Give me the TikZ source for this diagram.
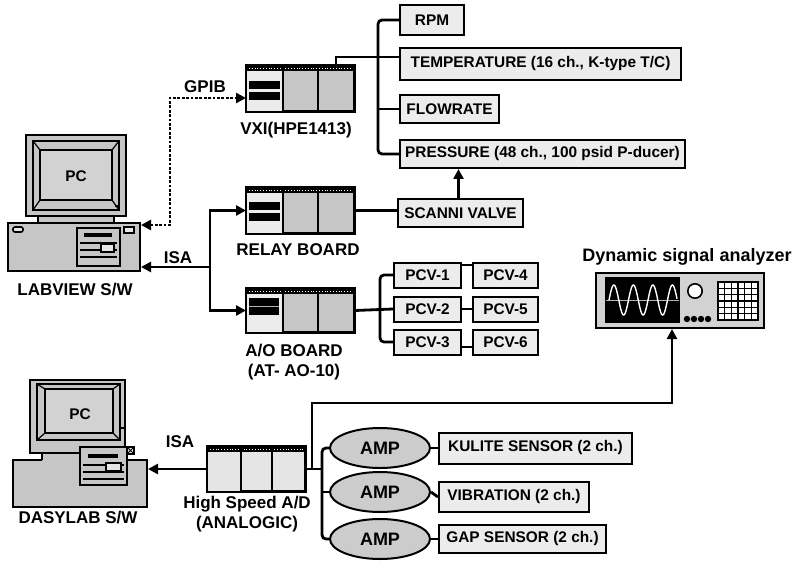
\documentclass[tikz,border=0pt]{standalone}
\usepackage{fontspec}
\setmainfont{Liberation Sans}
\usetikzlibrary{arrows.meta, positioning, calc, shapes.geometric}

\newcommand\boxfont{\fontsize{7.7}{9}\selectfont\bfseries}
\newcommand\lblfont{\fontsize{8.5}{10}\selectfont\bfseries}

% front of a plug-in board: black top strip and three slots
\newcommand\boardface[2]{%
  \fill[#2] ($(#1.north west)+(1,1)$) rectangle ($(#1.south west)!0.34!(#1.south east)+(0,-1)$);
  \fill (#1.north west) rectangle ($(#1.north east)+(0,6)$);
  \draw[white, densely dotted, line width=0.4pt] ($(#1.north west)+(3,3)$) -- ($(#1.north east)+(-3,3)$);
  \foreach \f in {0.34,0.66}
    \draw[line width=1pt] ($(#1.north west)!\f!(#1.north east)$) -- ($(#1.south west)!\f!(#1.south east)$);
  \draw[line width=1pt] (#1.north west) rectangle (#1.south east);
}

\begin{document}
\begin{tikzpicture}[
  x=0.5pt, y=-0.5pt,
  >={Triangle[length=5pt, width=5pt]},
  tag/.style={draw, line width=1pt, fill=gray!15, font=\boxfont, anchor=west,
              inner xsep=2pt, inner ysep=0pt},
  lbl/.style={font=\lblfont, align=center, inner sep=0pt},
  board/.style={draw, line width=1pt, fill=gray!45, inner sep=0pt, anchor=north west,
                minimum width=53.5pt, minimum height=22.5pt},
  amp/.style={ellipse, draw, line width=1pt, fill=gray!40,
              font=\fontsize{9}{10}\selectfont\bfseries,
              minimum width=50pt, minimum height=20pt, inner sep=0pt},
  pcbody/.style={draw, line width=1pt, fill=gray!45, inner sep=0pt},
  wire/.style={line width=1.4pt},
  gpib/.style={line width=1.4pt, dash pattern=on 1.4pt off 0.8pt}
]
\useasboundingbox (0,0) rectangle (796,561);

%% LabVIEW computer
\node[pcbody, minimum width=66pt, minimum height=24pt] (lvbase) at (74,247) {};
\draw[pcbody] (38,216) rectangle (114,223);
\node[pcbody, minimum width=50pt, minimum height=40.5pt] (lvmon) at (76,175.5) {};
\draw[line width=0.8pt] (33,141) rectangle (119,210);
\draw[line width=0.8pt, fill=gray!35] (40,150) rectangle (112,200);
\draw[line width=0.6pt] (33,141) -- (40,150) (119,141) -- (112,150)
  (33,210) -- (40,200) (119,210) -- (112,200);
\fill (115,205) rectangle (120,207);
\node[font=\boxfont] (lvpc) at (76,176) {PC};
\draw[fill=gray!20, rounded corners=1pt, line width=0.8pt] (13,227) rectangle (23,232);
\draw[fill=gray!20, line width=0.8pt] (124,227) rectangle (134,233);
\draw[fill=gray!45, line width=0.8pt] (77,228) rectangle (120,266);
\draw[line width=1.6pt] (84,235) -- (112,235);
\foreach \yy in {243,250,257}
  \draw[line width=0.7pt] (80,\yy) -- (117,\yy);
\draw[fill=gray!20, line width=0.7pt] (101,244) rectangle (114,252);
\node[lbl] (lvname) at (75,290) {LABVIEW S/W};

%% DasyLab computer
\node[pcbody, minimum width=67pt, minimum height=23.5pt] (dsbase) at (80,483.5) {};
\fill[gray!45] (42,450) rectangle (125,461.5);
\draw[line width=1pt] (42,450) -- (42,460);
\node[pcbody, minimum width=47.5pt, minimum height=36.5pt] (dsmon) at (77.5,416.5) {};
\draw[line width=0.8pt] (37,384) rectangle (120,440);
\draw[line width=0.8pt, fill=gray!35] (45,389) rectangle (113,433);
\draw[line width=0.6pt] (37,384) -- (45,389) (120,384) -- (113,389)
  (37,440) -- (45,433) (120,440) -- (113,433);
\fill (120,427) rectangle (125,429);
\node[font=\boxfont] (dspc) at (80,414) {PC};
\draw[fill=gray!45, line width=0.8pt] (80,447) rectangle (127,485);
\draw[line width=1.6pt] (88,456) -- (118,456);
\foreach \yy in {465,472,479}
  \draw[line width=0.7pt] (83,\yy) -- (124,\yy);
\draw[fill=gray!20, line width=0.7pt] (106,463) rectangle (121,471);
\draw[fill=gray!20, line width=0.7pt] (127,447) rectangle (134,454);
\draw[line width=0.5pt] (127,447) -- (134,454) (127,454) -- (134,447);
\node[lbl] (dsname) at (78,518) {DASYLAB S/W};

%% boards
\node[board] (vxi) at (246,65) {};
\boardface{vxi}{gray!15}
\fill ($(vxi.north west)+(3,16)$) rectangle +(31,8);
\fill ($(vxi.north west)+(3,27)$) rectangle +(31,8);
\node[lbl] (vxiname) at (296,130) {VXI(HPE1413)};

\node[board] (relay) at (246,187) {};
\boardface{relay}{gray!15}
\fill ($(relay.north west)+(3,15)$) rectangle +(31,8);
\fill ($(relay.north west)+(3,26)$) rectangle +(31,8);
\node[lbl] (relayname) at (298,250) {RELAY BOARD};

\node[board, minimum height=21.5pt] (aoboard) at (246,288) {};
\boardface{aoboard}{gray!15}
\fill ($(aoboard.north west)+(3,10)$) rectangle +(30,17);
\draw[gray!60, line width=0.4pt] ($(aoboard.north west)+(3,18)$) -- +(30,0);
\node[lbl] (aoname) at (294,362) {A/O BOARD\\(AT- AO-10)};

\node[board, fill=gray!20, minimum width=48.5pt, minimum height=22pt] (hsad) at (207,446) {};
\boardface{hsad}{gray!20}
\node[lbl] (hsadname) at (247,514) {High Speed A/D\\(ANALOGIC)};

%% VXI channels
\node[tag, minimum width=32pt, minimum height=15pt] (rpm) at (399,20) {RPM};
\node[tag, minimum width=140.5pt, minimum height=16pt] (temp) at (399,64) {TEMPERATURE (16 ch., K-type T/C)};
\node[tag, minimum width=49.5pt, minimum height=14pt] (flow) at (399,109) {FLOWRATE};
\node[tag, minimum width=142.5pt, minimum height=14pt] (press) at (399,154) {PRESSURE (48 ch., 100 psid P-ducer)};
\node[tag, minimum width=62.5pt, minimum height=14pt] (scanni) at (397,213) {SCANNI VALVE};

%% pressure control valves
\foreach \n/\yy in {1/275,2/309,3/342}
  \node[tag, minimum width=33.5pt, minimum height=12.5pt] (pcv\n) at (393,\yy) {PCV-\n};
\foreach \n/\yy in {4/275,5/309,6/342}
  \node[tag, minimum width=32.5pt, minimum height=12.5pt] (pcv\n) at (472,\yy) {PCV-\n};

%% amplifiers and dynamic sensors
\node[amp] (amp1) at (380,448) {AMP};
\node[amp] (amp2) at (380,492) {AMP};
\node[amp] (amp3) at (380,539) {AMP};
\node[tag, minimum width=96.5pt, minimum height=15.5pt] (kulite) at (438,448) {KULITE SENSOR (2 ch.)};
\node[tag, minimum width=75pt, minimum height=15pt] (vib) at (438,497) {VIBRATION (2 ch.)};
\node[tag, minimum width=83.5pt, minimum height=14pt] (gap) at (438,539) {GAP SENSOR (2 ch.)};

%% signal analyzer
\node[pcbody, fill=gray!35, minimum width=84pt, minimum height=27.5pt] (dsa) at (680,300.5) {};
\fill (605,277) rectangle (680,323);
\draw[gray!60, line width=0.3pt] (606,300) -- (679,300);
\draw[white, line width=0.7pt] plot[domain=0:68, samples=120, smooth] ({609+\x}, {300-15*sin(\x/19.5*360)});
\draw[fill=white, line width=0.8pt] (695,291) circle[radius=3.6pt];
\foreach \i in {0,...,3}
  \fill ({687+7*\i},319) circle[radius=1.6pt];
\draw[fill=white, line width=0.8pt] (718,282) rectangle (758,320);
\foreach \i in {1,...,5} {
  \draw[line width=0.7pt] ({718+\i*40/6},282) -- ++(0,38);
  \draw[line width=0.7pt] (718,{282+\i*38/6}) -- ++(40,0);
}
\node[lbl, font=\fontsize{9}{11}\selectfont\bfseries] (dsaname) at (687,257) {Dynamic signal analyzer};

%% connections
\coordinate (gp) at (170,150);
\draw[gpib, <->] ([yshift=-1.5pt]lvbase.north east) -| (gp) |- ([yshift=-4.75pt]vxi.west);
\node[lbl] (gpibname) at (205,87) {GPIB};

\coordinate (isa) at (210,267);
\draw[wire, ->] (isa) -- (isa -| lvbase.east);
\draw[wire, ->] (isa) |- (relay.west);
\draw[wire, ->] (isa) |- (aoboard.west);
\node[lbl] (isaname) at (178,258) {ISA};

\coordinate (vbus) at (378,100);
\draw[wire] ([xshift=-9.5pt]vxi.north east) |- ([yshift=3.5pt]temp.west);
\draw[wire, rounded corners=2pt] (rpm.west) -| (vbus) |- (press.west);
\draw[wire] (flow.west) -- (flow.west -| vbus);

\draw[wire] (relay.east) -- (relay.east -| scanni.west);
\draw[wire, ->] ([xshift=-1pt]scanni.north) -- ([xshift=-1pt]scanni.north |- press.south);

\coordinate (pbus) at (380,309);
\draw[wire] (aoboard.east) -- (pcv2.west);
\draw[wire, rounded corners=2pt] (pcv1.west) -| (pbus) |- (pcv3.west);
\draw[wire] ([yshift=5pt]pcv1.east) -- ([yshift=5pt]pcv1.east -| pcv4.west);
\draw[wire] (pcv2.east) -- (pcv5.west);
\draw[wire] ([yshift=-2.5pt]pcv3.east) -- ([yshift=-2.5pt]pcv3.east -| pcv6.west);

\coordinate (hbus) at (322,490);
\coordinate (tap) at (312,403);
\draw[wire] (hsad.east) -- (hsad.east -| hbus);
\draw[wire, rounded corners=2pt] (amp1.west) -| (hbus) |- (amp3.west);
\draw[wire] (amp2.west) -- (amp2.west -| hbus);
\draw[wire, ->] (hsad.east -| tap) -- (tap) -| ([xshift=-4pt]dsa.south);
\draw[wire] (amp1.east) -- (kulite.west);
\draw[wire] (amp2.east) -- (vib.west);
\draw[wire] (amp3.east) -- (gap.west);

\draw[wire, ->] (hsad.west) -- (hsad.west -| dsbase.east);
\node[lbl] (isaname2) at (180,442) {ISA};
\end{tikzpicture}
\end{document}
